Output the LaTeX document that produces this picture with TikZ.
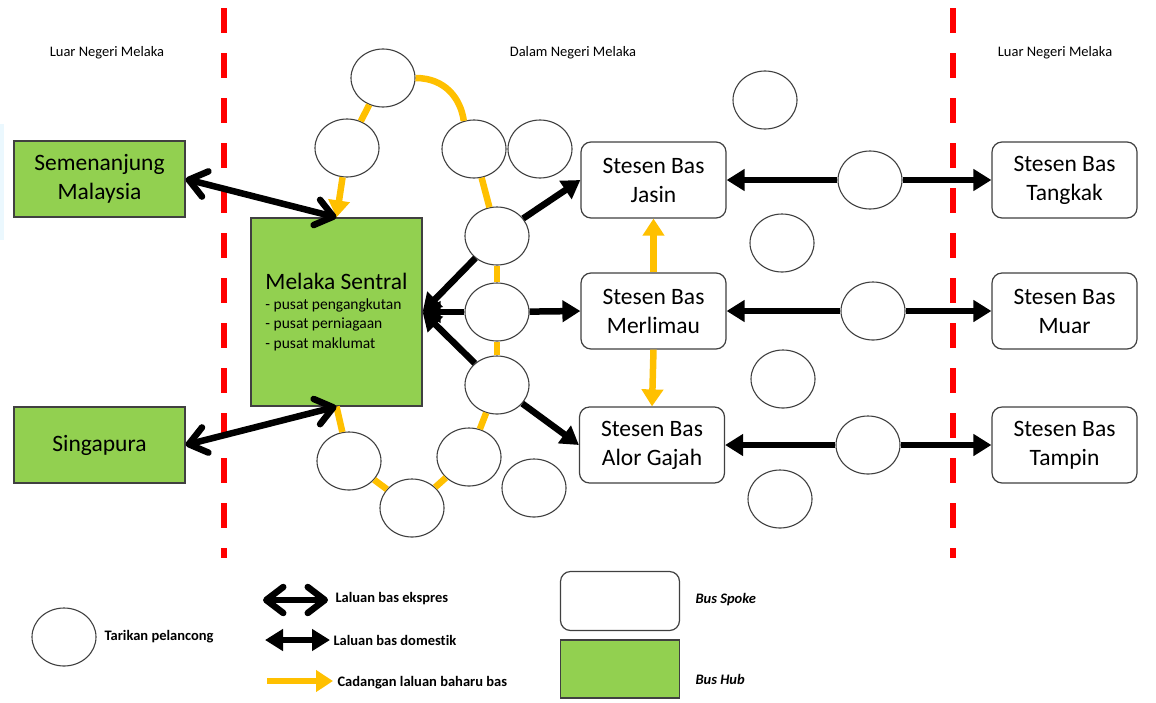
\documentclass[tikz,border=0pt]{standalone}
\usepackage{fontspec}
\setmainfont{Carlito}[Ligatures=NoCommon]
\usetikzlibrary{arrows.meta,shapes.geometric}
\definecolor{hubgreen}{HTML}{92D050}
\definecolor{routeyel}{HTML}{FFC000}
\definecolor{edgegray}{HTML}{404040}
\newcommand\boxtxt{\fontsize{23.5}{29}\selectfont}
\newcommand\subtxt{\fontsize{15.5}{19.5}\selectfont}
\newcommand\keytxt{\fontsize{14.5}{17}\selectfont}
\tikzset{hub/.style={draw=edgegray,fill=hubgreen,line width=1.2pt,inner sep=0pt,minimum width=171pt,minimum height=76pt,align=center,font=\boxtxt},
 spoke/.style={draw=edgegray,fill=white,line width=1.2pt,rounded corners=10pt,inner sep=0pt,minimum width=145pt,minimum height=76pt,align=center,font=\boxtxt},
 spot/.style={ellipse,draw=edgegray,fill=white,line width=1.1pt,inner sep=0pt,minimum width=64pt,minimum height=58pt},
 bnd/.style={draw=red,line width=6pt,dash pattern=on 25pt off 20pt},
 expr/.style={line width=6.5pt,line cap=round,>={Straight Barb[length=17pt,width=26pt,round]},<->},
 dom/.style={line width=6.5pt,>={Triangle[length=18pt,width=21pt]},->},
 yel/.style={draw=routeyel,line width=6.5pt,>={Triangle[length=17pt,width=21pt]}},
 hdr/.style={font=\keytxt},key/.style={font=\keytxt\bfseries,anchor=west}}

\begin{document}
\begin{tikzpicture}[x=1pt,y=-1pt]
\useasboundingbox (0,0) rectangle (1156,702);
\fill[cyan!8] (0,124) rectangle (4,240);
\draw[bnd] (224,8) -- (224,558);\draw[bnd] (953,8) -- (953,558);
\node[hdr](h1) at (107,53){Luar Negeri Melaka};\node[hdr](h2) at (573,53){Dalam Negeri Melaka};
\node[hdr](h3) at (1055,53){Luar Negeri Melaka};
\node[hub](sm) at (99.5,179){Semenanjung\\Malaysia};\node[hub](sg) at (99.5,445){Singapura};
\node[hub,minimum height=188pt,align=left,font=\subtxt](ms) at (336.5,312){{\boxtxt Melaka Sentral}\\- pusat pengangkutan\\- pusat perniagaan\\- pusat maklumat};
\node[spoke](ja) at (653.5,180){Stesen Bas\\Jasin};\node[spoke](me) at (653.5,311){Stesen Bas\\Merlimau};
\node[spoke](ag) at (652,445){Stesen Bas\\Alor Gajah};
\node[spoke](tk) at (1064.5,180){Stesen Bas\\Tangkak};\node[spoke](mu) at (1064.5,311){Stesen Bas\\Muar};
\node[spoke](tp) at (1064.5,445){Stesen Bas\\Tampin};
\node[spot](c1) at (383,78){};\node[spot](c2) at (347,148){};\node[spot](c3) at (474,149){};
\node[spot](c4) at (540,149){};\node[spot](c5) at (765,100){};\node[spot](c6) at (497,236){};
\node[spot](c7) at (497,312){};\node[spot](c8) at (497,385){};\node[spot](c9) at (469,457){};
\node[spot](c10) at (349,461){};\node[spot](c11) at (412,508){};\node[spot](c12) at (534,488){};
\node[spot](c13) at (782,243){};\node[spot](c14) at (783,379){};\node[spot](c15) at (780,499){};
\node[spot](c16) at (870,180){};\node[spot](c17) at (873,311){};\node[spot](c18) at (868,445){};
\draw[yel,->] (c2) -- (ms.north);\draw[yel] (c2) -- (c1);
\draw[yel] (c1.east) .. controls +(30,0) and +(-3,-22) .. (c3.110);
\draw[yel] (c3) -- (c6);\draw[yel] (c6) -- (c7);\draw[yel] (c7) -- (c8);\draw[yel] (c8) -- (c9);
\draw[yel] (c9) -- (c11);\draw[yel] (c11) -- (c10);\draw[yel] (c10) -- (ms.south);
\draw[yel,->] (me.north) -- (ja.south);\draw[yel,->] (me.south) -- (ag.north);
\draw[expr] (sm.east) -- (ms.north);\draw[expr] (sg.east) -- (ms.south);
\draw[dom] (c6) -- (ms.east);\draw[dom] (c7) -- (ms.east);\draw[dom] (c8) -- (ms.east);
\draw[dom] (c6) -- (ja.west);\draw[dom] (c7) -- (me.west);\draw[dom] (c8) -- (ag.west);
\draw[dom] (c16) -- (ja.east);\draw[dom] (c16) -- (tk.west);
\draw[dom] (c17) -- (me.east);\draw[dom] (c17) -- (mu.west);
\draw[dom] (c18) -- (ag.east);\draw[dom] (c18) -- (tp.west);
\coordinate (k1a) at (263,600);\coordinate (k1b) at (328,600);
\coordinate (k2a) at (265,640);\coordinate (k2b) at (330,640);
\coordinate (k3a) at (267,681);\coordinate (k3b) at (333,681);
\draw[expr] (k1a) -- (k1b);\draw[dom,<->] (k2a) -- (k2b);\draw[yel,->] (k3a) -- (k3b);
\node[key](l1) at (332,599){Laluan bas ekspres};\node[key](l2) at (330,640){Laluan bas domestik};
\node[key](l3) at (334,683){Cadangan laluan baharu bas};
\node[spot](ks) at (64,637){};\node[key](l4) at (101,637){Tarikan pelancong};
\node[spoke,minimum width=119pt,minimum height=59pt](kb) at (620,601){};
\node[hub,minimum width=119pt,minimum height=58pt](kh) at (620,669){};
\node[key,font=\keytxt\bfseries\itshape](l5) at (692,600){Bus Spoke};
\node[key,font=\keytxt\bfseries\itshape](l6) at (692,679){Bus Hub};
\end{tikzpicture}
\end{document}
